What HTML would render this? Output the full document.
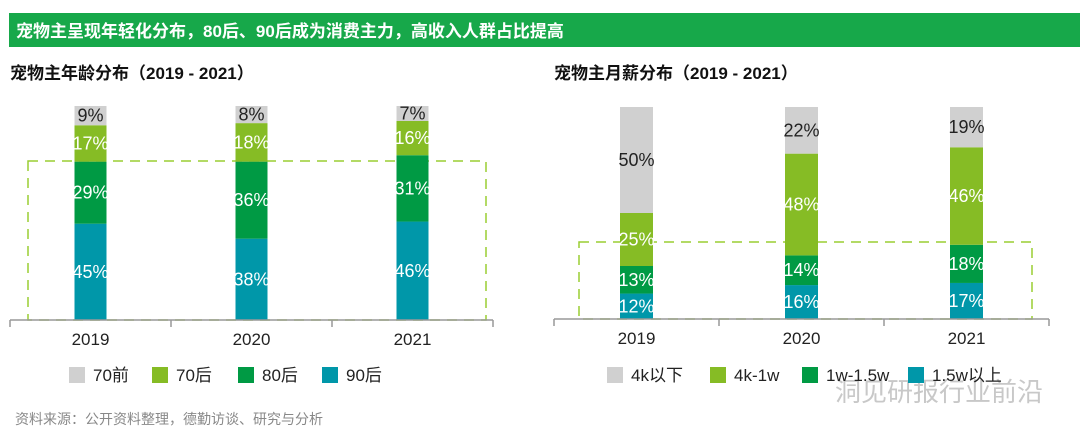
<!DOCTYPE html>
<html><head><meta charset="utf-8">
<style>
body{margin:0;width:1080px;height:439px;background:#fff;overflow:hidden;font-family:"Liberation Sans","Noto Sans CJK SC",sans-serif;}
svg{position:absolute;left:0;top:0}
</style></head>
<body>
<svg id="chart" width="1080" height="439" xmlns="http://www.w3.org/2000/svg" font-family="Liberation Sans, Noto Sans CJK SC, sans-serif">
<rect x="9" y="13" width="1071" height="34" fill="#17a84a"/>
<text x="16" y="37" fill="#fff" font-size="17" font-weight="bold">宠物主呈现年轻化分布，80后、90后成为消费主力，高收入人群占比提高</text>
<text x="10" y="79" fill="#111" font-size="17" font-weight="bold">宠物主年龄分布（2019 - 2021）</text>
<text x="554" y="79" fill="#111" font-size="17" font-weight="bold">宠物主月薪分布（2019 - 2021）</text>
<text x="15" y="424" fill="#888" font-size="14">资料来源：公开资料整理，德勤访谈、研究与分析</text>
<text x="835" y="401" fill="#c8c8c8" font-size="26">洞见研报行业前沿</text>
<g id="g"></g>
</svg>
<script>
const years=["2019","2020","2021"];
const ageSeries=["70前","70后","80后","90后"];
const age70pre=[9,8,7];
const age70post=[17,18,16];
const age80=[29,36,31];
const age90=[45,38,46];
const salSeries=["4k以下","4k-1w","1w-1.5w","1.5w以上"];
const salLow=[50,22,19];
const salMid=[25,48,46];
const salHigh1=[13,14,18];
const salHigh2=[12,16,17];
const colors=["#d0d0d0","#86bc25","#009a44","#0097a9"];
const textCols=["#222","#fff","#fff","#fff"];
const NS="http://www.w3.org/2000/svg";
const g=document.getElementById('g');
function mk(t,a){const e=document.createElementNS(NS,t);for(const k in a)e.setAttribute(k,a[k]);g.appendChild(e);return e;}
function drawChart(prefix,cfg,stacks,series){
  const box=mk('rect',{x:cfg.boxX,y:cfg.boxY,width:cfg.boxW,height:cfg.base-cfg.boxY,fill:'none',stroke:'#9acd32','stroke-width':1.5,'stroke-dasharray':'10,7'});
  
  
  const yScale=v=>v*cfg.k;
  years.forEach((yr,i)=>{
    const cx=cfg.x0+cfg.step*(i+0.5);
    let y=cfg.base;
    for(let s=stacks.length-1;s>=0;s--){
      const v=stacks[s][i];const h=yScale(v);y-=h;
      const r=mk('rect',{x:cx-cfg.bw/2,y:y,width:cfg.bw,height:h,fill:colors[s]});
      
      
      const t=mk('text',{x:cx,y:y+h/2+6,'text-anchor':'middle','font-size':18,fill:textCols[s]});
      t.textContent=v+'%';
      
      
    }
    const xl=mk('text',{x:cx,y:cfg.base+25,'text-anchor':'middle','font-size':17,fill:'#222'});
    xl.textContent=yr;
    
    
  });
  const ax=mk('line',{x1:cfg.x0,x2:cfg.x0+cfg.step*3,y1:cfg.base,y2:cfg.base,stroke:'#999','stroke-width':1.5});
  
  
  for(let i=0;i<=3;i++){
    const tk=mk('line',{x1:cfg.x0+cfg.step*i,x2:cfg.x0+cfg.step*i,y1:cfg.base,y2:cfg.base+7,stroke:'#999','stroke-width':1.5});
    
    
  }
  series.forEach((s,i)=>{
    const sq=mk('rect',{x:cfg.legX[i],y:367,width:16,height:16,fill:colors[i]});
    
    
    const t=mk('text',{x:cfg.legX[i]+24,y:381,'font-size':17,fill:'#222'});
    t.textContent=s;
    
    
  });
}
drawChart('age',{x0:10,step:161,bw:32,base:320,k:2.14,boxX:28,boxY:161,boxW:458,legX:[69,152,238,322]},[age70pre,age70post,age80,age90],ageSeries);
drawChart('salary',{x0:554,step:165,bw:33,base:319,k:2.12,boxX:579,boxY:242,boxW:453,legX:[607,710,802,908]},[salLow,salMid,salHigh1,salHigh2],salSeries);
</script>
</body></html>
